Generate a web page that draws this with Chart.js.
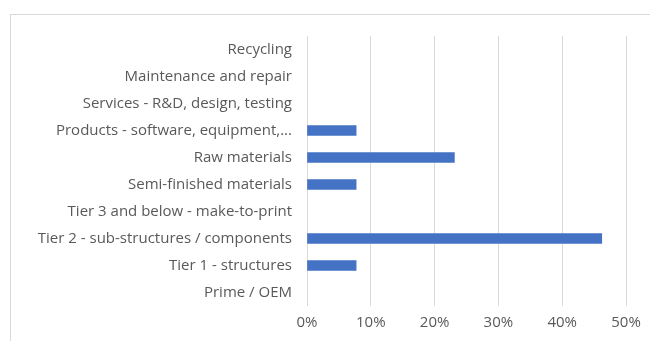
<!DOCTYPE html>
<html>
<head>
<meta charset="utf-8">
<script src="https://cdn.jsdelivr.net/npm/chart.js@4.4.1/dist/chart.umd.min.js"></script>
<style>
  html, body { margin: 0; padding: 0; background: #fff; overflow: hidden; }
  #wrap { position: relative; width: 650px; height: 341px; }
  #frame { position: absolute; left: 10px; top: 14px; width: 700px; height: 400px; border: 1px solid #d9d9d9; box-sizing: border-box; }
  canvas { position: absolute; left: 0; top: 0; }
</style>
</head>
<body>
<div id="wrap">
  <div id="frame"></div>
  <canvas id="MyChart" width="650" height="341"></canvas>
</div>
<script>
// categories top to bottom
const categorias = [
    "Recycling",
    "Maintenance and repair",
    "Services - R&D, design, testing",
    "Products - software, equipment,...",
    "Raw materials",
    "Semi-finished materials",
    "Tier 3 and below - make-to-print",
    "Tier 2 - sub-structures / components",
    "Tier 1 - structures",
    "Prime / OEM"
];
// share of respondents, percent
const porcentajes = [0, 0, 0, 7.7, 23.1, 7.7, 0, 46.2, 7.7, 0];
const ticksX = [0, 10, 20, 30, 40, 50];

const gris = "#595959";
const fuente = { family: "'Open Sans', sans-serif", size: 15 };

let ctx = document.getElementById("MyChart").getContext("2d");

let grafica = new Chart(ctx, {
    type: "bar",
    data: {
        labels: categorias,
        datasets: [{
            // empty categories get no bar at all
            data: porcentajes.map(v => v === 0 ? null : v),
            backgroundColor: "#4472C4",
            barThickness: 10
        }]
    },
    options: {
        indexAxis: "y",
        responsive: false,
        animation: false,
        layout: { padding: { top: 36, right: 24, left: 0, bottom: 0 } },
        plugins: { legend: { display: false }, tooltip: { enabled: false } },
        scales: {
            x: {
                min: 0,
                max: 50,
                afterBuildTicks: (scale) => { scale.ticks = ticksX.map(v => ({ value: v })); },
                afterFit: (scale) => { scale.height = 35; },
                border: { display: false },
                grid: { color: "#d9d9d9", lineWidth: 1, drawTicks: false },
                ticks: {
                    color: gris,
                    font: fuente,
                    padding: 8,
                    callback: (v) => v + "%"
                }
            },
            y: {
                afterFit: (scale) => { scale.width = 307; },
                border: { display: false },
                grid: { display: false, drawTicks: false },
                ticks: {
                    color: gris,
                    font: fuente,
                    padding: 15,
                    autoSkip: false
                }
            }
        }
    }
});
</script>
</body>
</html>
